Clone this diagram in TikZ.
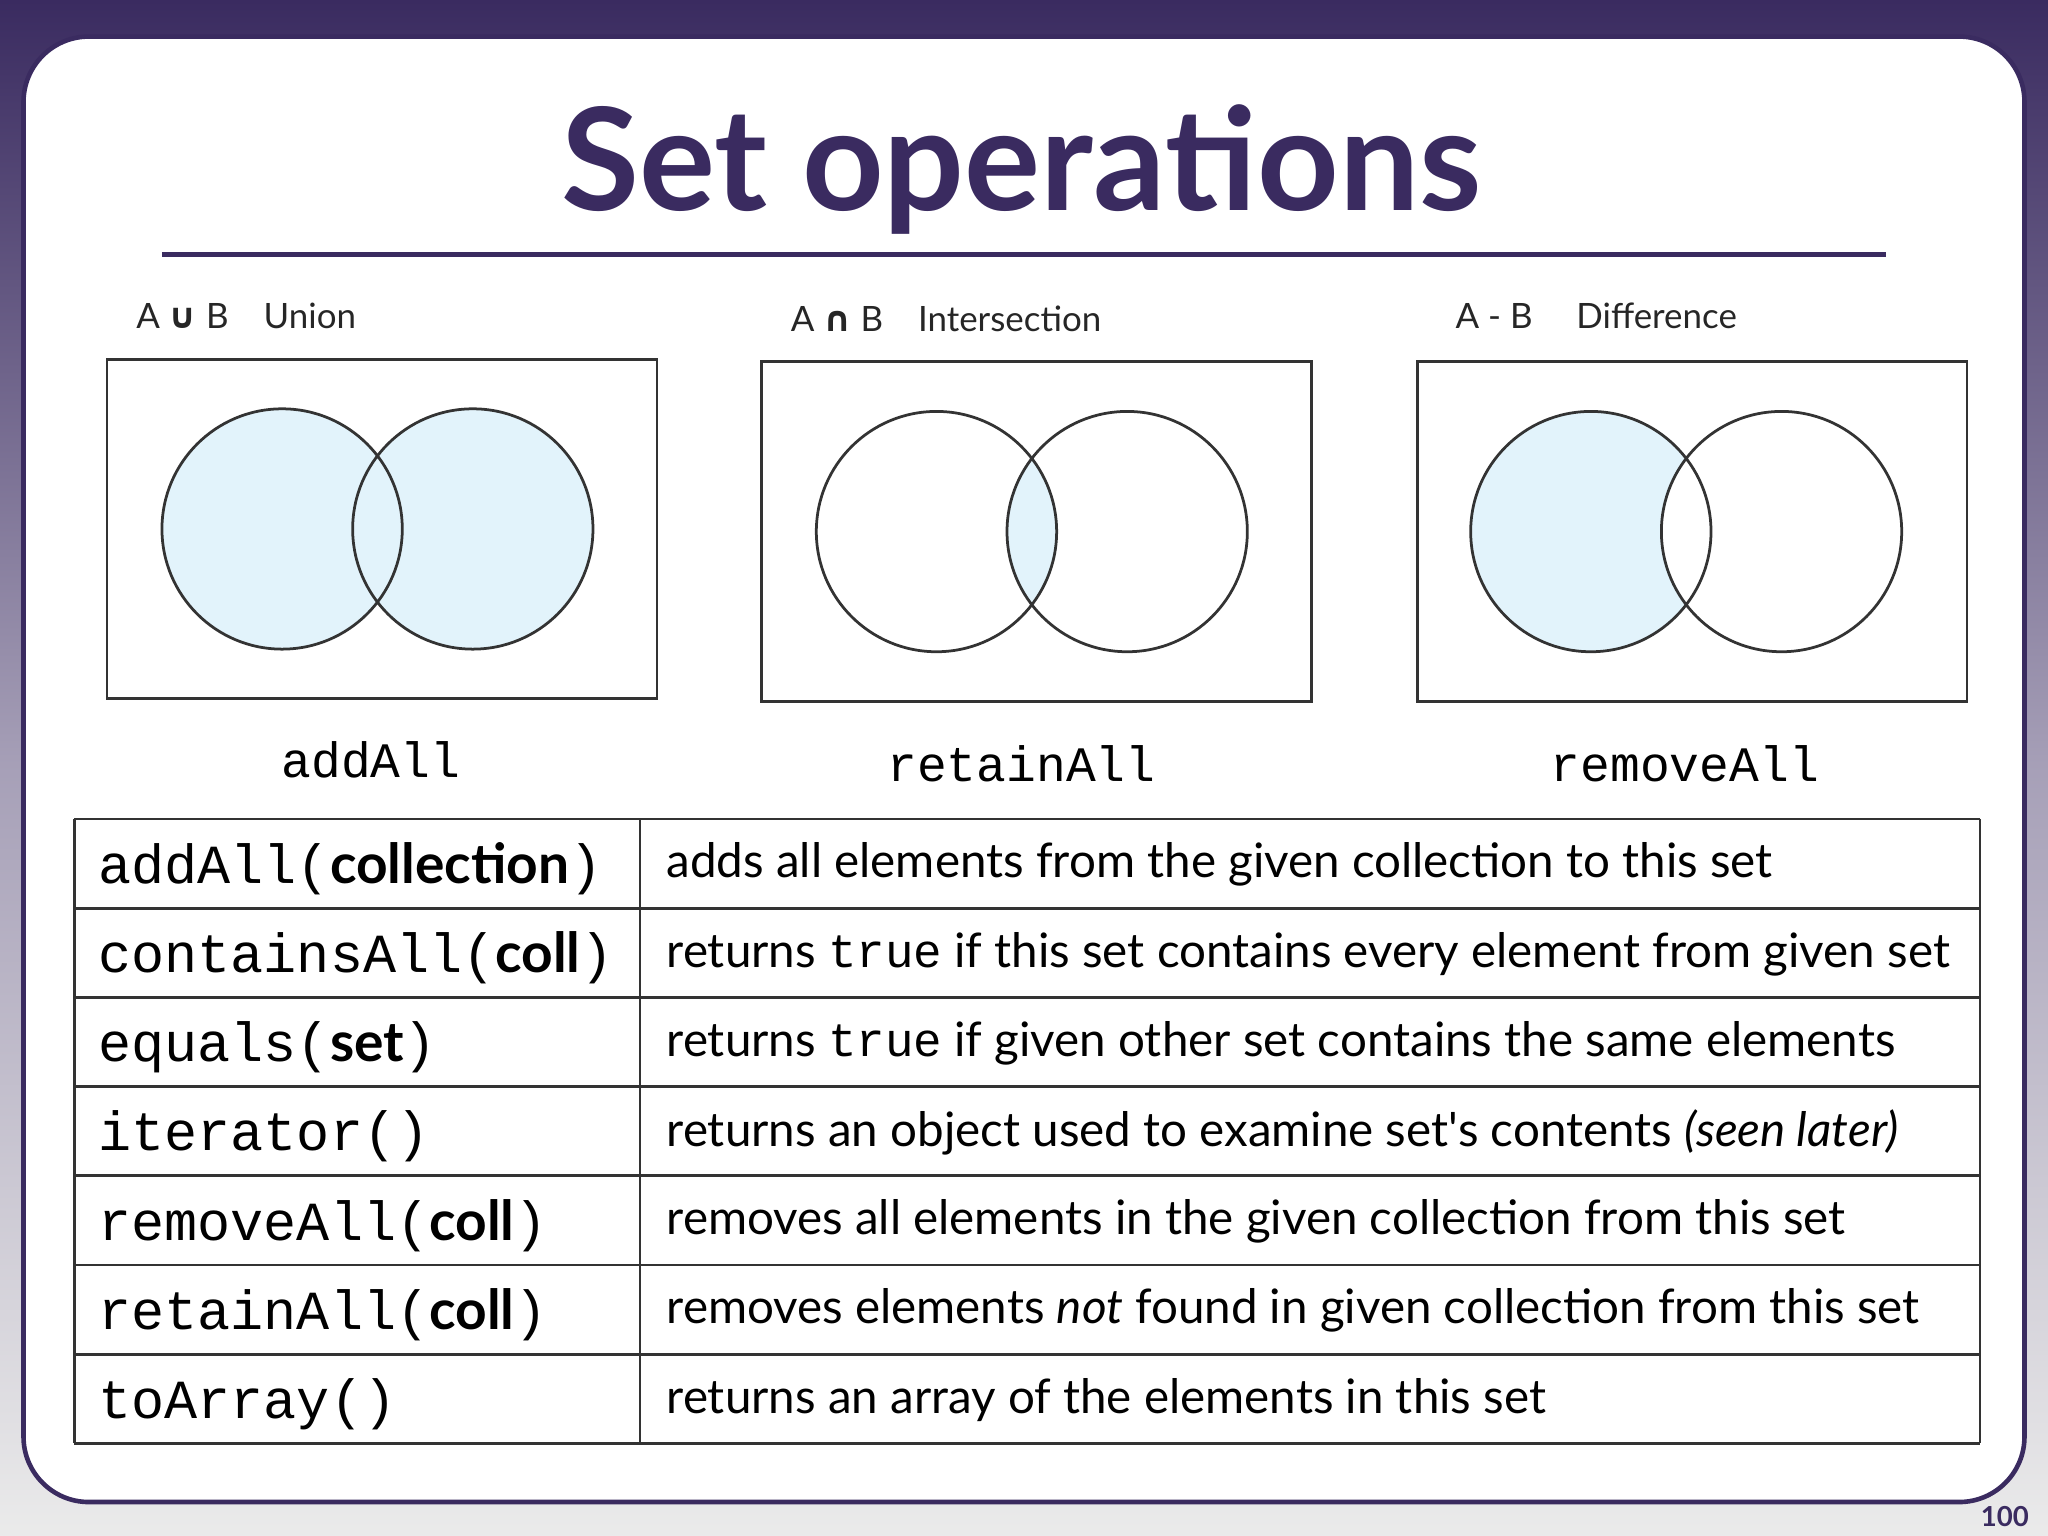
\documentclass[tikz,border=0pt]{standalone}
\usepackage{fontspec}
\setmainfont{Lato}
\setmonofont{Liberation Mono}
\newfontfamily\symfont{DejaVu Sans}
\definecolor{slidepurple}{HTML}{3A2B60}
\definecolor{vennblue}{HTML}{E2F3FB}
\tikzset{
  vennbox/.style={draw=black!80, line width=0.6pt},
  venncirc/.style={draw=black!80, line width=0.6pt},
  opname/.style={anchor=west, font=\fontsize{7.6}{9}\selectfont, text=black!85},
  caption/.style={font=\ttfamily\fontsize{10.8}{12}\selectfont},
  cellleft/.style={anchor=west, font=\ttfamily\fontsize{12}{14}\selectfont},
  cellright/.style={anchor=west, font=\fontsize{10.35}{12}\selectfont},
}
\begin{document}
\begin{tikzpicture}[x=0.01cm, y=-0.01cm]
  % background and slide
  \useasboundingbox (0,0) rectangle (1568,1176);
  \shade[top color=slidepurple, bottom color=black!8, middle color=slidepurple!45] (0,0) rectangle (1568,1176);
  \filldraw[fill=white, draw=slidepurple, line width=1pt, rounded corners=0.5cm] (18,28) rectangle (1550,1150);

  % title
  \node[font=\bfseries\fontsize{31}{34}\selectfont, text=slidepurple] (title) at (782,130) {Set opera\kern0pt tions};
  \draw[slidepurple, line width=1.1pt] (124,195) -- (1444,195);

  % venn panels
  \node[opname] (lab1) at (92,242) {A {\symfont\bfseries ∪} B\quad Union};
  \node[opname] (lab2) at (593,244) {A {\symfont\bfseries ∩} B\quad Intersection};
  \node[opname] (lab3) at (1102,242) {A - B\quad\ Difference};

  % union
  \fill[vennblue] (216,405) circle (92) (362,405) circle (92);
  \draw[venncirc] (216,405) circle (92) (362,405) circle (92);
  \draw[vennbox] (82,275) rectangle (503,535);
  % intersection
  \begin{scope}
    \clip (717,407) circle (92);
    \fill[vennblue] (863,407) circle (92);
  \end{scope}
  \draw[venncirc] (717,407) circle (92) (863,407) circle (92);
  \draw[vennbox] (583,277) rectangle (1004,537);
  % difference
  \fill[vennblue] (1218,407) circle (92);
  \begin{scope}
    \clip (1218,407) circle (92);
    \fill[white] (1364,407) circle (92);
  \end{scope}
  \draw[venncirc] (1218,407) circle (92) (1364,407) circle (92);
  \draw[vennbox] (1085,277) rectangle (1506,537);

  \node[caption] (cap1) at (284,582) {addAll};
  \node[caption] (cap2) at (782,585) {retainAll};
  \node[caption] (cap3) at (1290,585) {removeAll};

  % method table
  \foreach \i in {0,...,7}
    \draw[black!80, line width=0.6pt] (57,627+68.3*\i) -- (1516,627+68.3*\i);
  \draw[black!80, line width=0.6pt] (57,627) -- (57,1105) (490,627) -- (490,1105) (1516,627) -- (1516,1105);

  \foreach \i/\m/\d in {
    0/{addAll(\textrm{\bfseries collection})}/{adds all elements from the given collection to this set},
    1/{containsAll(\textrm{\bfseries coll})}/{returns \texttt{true} if this set contains every element from given set},
    2/{equals(\textrm{\bfseries set})}/{returns \texttt{true} if given other set contains the same elements},
    3/{iterator()}/{returns an object used to examine set\textquotesingle s contents \textit{(seen later)}},
    4/{removeAll(\textrm{\bfseries coll})}/{removes all elements in the given collection from this set},
    5/{retainAll(\textrm{\bfseries coll})}/{removes elements \textit{not} found in given collection from this set},
    6/{toArray()}/{returns an array of the elements in this set}} {
    \node[cellleft] (m\i) at (63,665+68.3*\i) {\m};
    \node[cellright] (d\i) at (498,662+68.3*\i) {\d};
  }

  \node[font=\bfseries\fontsize{6}{7}\selectfont, text=slidepurple] (pagenum) at (1535,1161) {100};
\end{tikzpicture}
\end{document}
